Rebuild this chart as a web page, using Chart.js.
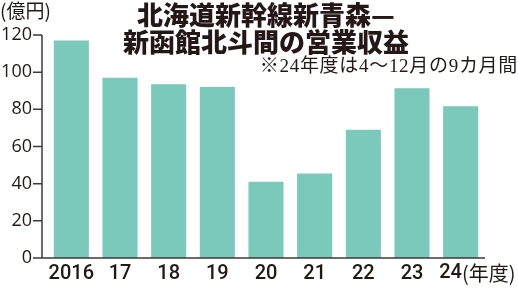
<!DOCTYPE html>
<html lang="ja">
<head>
<meta charset="UTF-8">
<title>北海道新幹線 営業収益</title>
<script src="https://cdn.jsdelivr.net/npm/chart.js"></script>
<style>
  body { margin: 0; background: #fff; }
  #wrap { width: 518px; height: 289px; }
</style>
</head>
<body>
<div id="wrap"><canvas id="c" width="518" height="289"></canvas></div>
<script>
  // 年度と営業収益（億円）
  const years = ['2016', '17', '18', '19', '20', '21', '22', '23', '24'];
  const revenue = [117, 97, 93.5, 92, 41, 45.5, 69, 91.3, 81.6];
  const yMax = 120;
  const yStep = 20;
  const titleLines = ['北海道新幹線新青森—', '新函館北斗間の営業収益'];
  const note = '※24年度は4～12月の9カ月間';
  const unitY = '(億円)';
  const unitX = '(年度)';

  const ink = '#231815';
  const barColor = '#7bc9ba';
  const axisX = 42;
  const xFont = 'Roboto';

  const decor = {
    id: 'decor',
    afterDraw(chart) {
      const c = chart.ctx;
      const xs = chart.scales.x, ys = chart.scales.y;
      const y0 = ys.getPixelForValue(0);
      c.save();
      // axes
      c.strokeStyle = '#3e3a39';
      c.lineWidth = 1.5;
      c.beginPath();
      c.moveTo(axisX, ys.getPixelForValue(yMax));
      c.lineTo(axisX, y0);
      c.lineTo(chart.chartArea.right, y0);
      for (let v = 0; v <= yMax; v += yStep) {
        const y = ys.getPixelForValue(v);
        c.moveTo(33, y);
        c.lineTo(axisX, y);
      }
      c.stroke();

      // title
      c.fillStyle = ink;
      c.textAlign = 'center';
      c.textBaseline = 'middle';
      c.font = '900 26px "Noto Sans CJK JP"';
      c.fillText(titleLines[0], 266, 15);
      c.fillText(titleLines[1], 266, 42);

      // note
      c.textAlign = 'right';
      c.font = '19px "Liberation Serif", "Noto Sans CJK JP"';
      c.letterSpacing = '0.7px';
      c.fillText(note, 518, 67);
      c.letterSpacing = '0px';

      // unit labels
      c.textAlign = 'left';
      c.font = '19px "Noto Sans CJK JP"';
      c.fillText(unitY, 0, 11);

      const last = years.length - 1;
      const xl = xs.getPixelForValue(last) - 21.5;
      c.font = '500 20px ' + xFont;
      c.fillText(years[last], xl, 273);
      const w = c.measureText(years[last]).width;
      c.font = '20px "Noto Sans CJK JP"';
      c.fillText(unitX, xl + w, 273);
      c.restore();
    }
  };

  new Chart(document.getElementById('c'), {
    type: 'bar',
    data: {
      labels: years,
      datasets: [{
        data: revenue,
        backgroundColor: barColor,
        borderWidth: 0,
        barPercentage: 0.72,
        categoryPercentage: 1
      }]
    },
    options: {
      responsive: false,
      animation: false,
      layout: { padding: { top: 35, right: 33, bottom: 0, left: 0 } },
      plugins: { legend: { display: false }, tooltip: { enabled: false } },
      scales: {
        x: {
          grid: { display: false, drawTicks: false },
          border: { display: false },
          ticks: {
            color: ink,
            padding: 4,
            maxRotation: 0,
            autoSkip: false,
            font: { family: xFont, size: 20, weight: '500' },
            callback: (v, i) => i === years.length - 1 ? '' : years[i]
          },
          afterFit: s => { s.height = 31; }
        },
        y: {
          min: 0,
          max: yMax,
          grid: { display: false, drawTicks: false },
          border: { display: false },
          ticks: {
            stepSize: yStep,
            color: ink,
            padding: 15,
            font: { family: '"Open Sans"', size: 18 }
          },
          afterFit: s => { s.width = 47; }
        }
      }
    },
    plugins: [decor]
  });
</script>
</body>
</html>
